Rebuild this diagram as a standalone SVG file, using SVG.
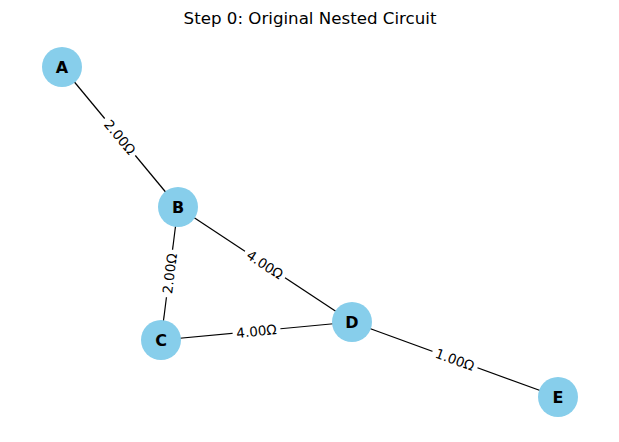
<svg xmlns="http://www.w3.org/2000/svg" width="619" height="442" viewBox="0 0 619 442">
<style>
.edge{stroke:#000;stroke-width:1.2;fill:none}
.node circle{fill:#87CEEB}
.node text{font-family:"DejaVu Sans",sans-serif;font-size:16px;font-weight:bold;fill:#000;text-anchor:middle;dominant-baseline:central}
.lbl rect{fill:#fff}
.lbl text{font-family:"DejaVu Sans",sans-serif;font-size:13.5px;fill:#000;text-anchor:middle;dominant-baseline:central}
.title{font-family:"DejaVu Sans",sans-serif;font-size:16.67px;fill:#000;text-anchor:middle}
</style>
<rect width="619" height="442" fill="#fff"/>
<text class="title" x="310" y="24">Step 0: Original Nested Circuit</text>
<g id="connectors">
<line class="edge" x1="62" y1="67" x2="178" y2="207"/>
<line class="edge" x1="178" y1="207" x2="161" y2="340"/>
<line class="edge" x1="178" y1="207" x2="352" y2="322"/>
<line class="edge" x1="161" y1="340" x2="352" y2="322"/>
<line class="edge" x1="352" y1="322" x2="558" y2="397"/>
<g class="lbl" transform="translate(120,137) rotate(50.4)"><rect x="-24" y="-9" width="48" height="18" rx="3"/><text x="0" y="0">2.00Ω</text></g>
<g class="lbl" transform="translate(169.5,273.5) rotate(-82.7)"><rect x="-24" y="-9" width="48" height="18" rx="3"/><text x="0" y="0">2.00Ω</text></g>
<g class="lbl" transform="translate(265,264.5) rotate(33.5)"><rect x="-24" y="-9" width="48" height="18" rx="3"/><text x="0" y="0">4.00Ω</text></g>
<g class="lbl" transform="translate(256.5,331) rotate(-5.4)"><rect x="-24" y="-9" width="48" height="18" rx="3"/><text x="0" y="0">4.00Ω</text></g>
<g class="lbl" transform="translate(455,359.5) rotate(20)"><rect x="-24" y="-9" width="48" height="18" rx="3"/><text x="0" y="0">1.00Ω</text></g>
</g>
<g id="A" class="node"><circle cx="62" cy="67" r="20"/><text x="62" y="67">A</text></g>
<g id="B" class="node"><circle cx="178" cy="207" r="20"/><text x="178" y="207">B</text></g>
<g id="C" class="node"><circle cx="161" cy="340" r="20"/><text x="161" y="340">C</text></g>
<g id="D" class="node"><circle cx="352" cy="322" r="20"/><text x="352" y="322">D</text></g>
<g id="E" class="node"><circle cx="558" cy="397" r="20"/><text x="558" y="397">E</text></g>
</svg>
